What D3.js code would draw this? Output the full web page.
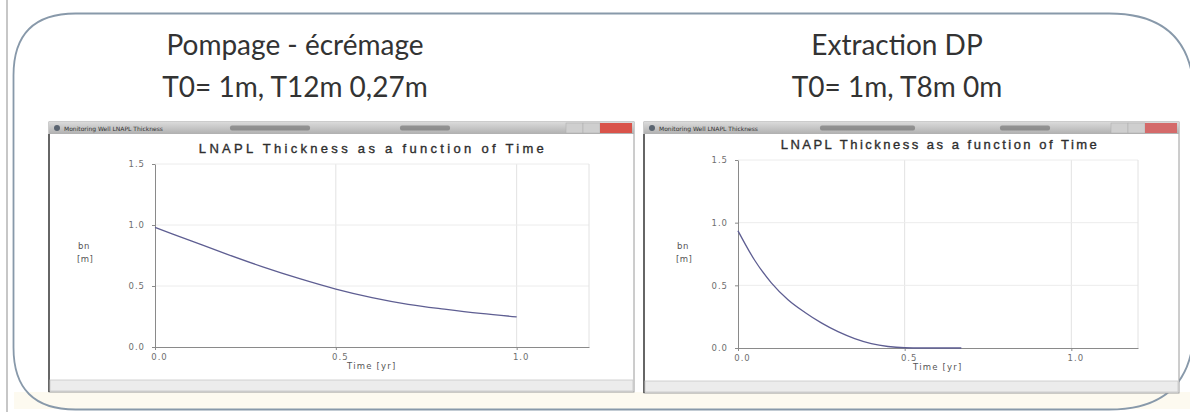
<!DOCTYPE html>
<html>
<head>
<meta charset="utf-8">
<script src="https://cdn.jsdelivr.net/npm/d3@7"></script>
<style>
  body { margin: 0; background: #fff; }
  svg { display: block; }
  .tick text { font-family: "DejaVu Sans", sans-serif; }
</style>
</head>
<body>
<svg id="chart" width="1190" height="412"></svg>
<script>
// headings above each screenshot
const headings = [
  ["Pompage - écrémage", "T0= 1m, T12m 0,27m"],
  ["Extraction DP", "T0= 1m, T8m 0m"]
]

// shared axis ticks
const xTicks = [0, 0.5, 1.0]
const yTicks = [0, 0.5, 1.0, 1.5]

// pompage - ecremage (left)
const leftTime      = [0, 0.1, 0.2, 0.3, 0.4, 0.5, 0.6, 0.7, 0.8, 0.9, 1.0]
const leftThickness = [0.98, 0.87, 0.76, 0.655, 0.56, 0.475, 0.405, 0.35, 0.31, 0.275, 0.247]

// extraction DP (right)
const rightTime      = [0, 0.05, 0.1, 0.15, 0.2, 0.25, 0.3, 0.35, 0.4, 0.45, 0.5, 0.55, 0.6, 0.67]
const rightThickness = [0.935, 0.70, 0.52, 0.385, 0.285, 0.2, 0.13, 0.075, 0.035, 0.012, 0.002, 0.0, 0.0, 0.0]

const svg = d3.select('#chart')

// gradient for window title bars
let defs = svg.append('defs')
let grad = defs.append('linearGradient').attr('id', 'titlebar').attr('x1', 0).attr('y1', 0).attr('x2', 0).attr('y2', 1)
grad.append('stop').attr('offset', '0%').attr('stop-color', '#dadada')
grad.append('stop').attr('offset', '100%').attr('stop-color', '#b0b0b0')

// faint page edge on the left
svg.append('line').attr('x1', 7).attr('x2', 7).attr('y1', 0).attr('y2', 412)
  .attr('stroke', '#b4b4b4').attr('stroke-width', 1.5)

// cream strip at the bottom
svg.append('rect').attr('x', 14).attr('y', 392).attr('width', 1176).attr('height', 17).attr('fill', '#fdfaf0')

// rounded outer frame (left corners tighter than right ones)
function framePath (x0, y0, x1, y1, rl, rr) {
  return `M${x0 + rl},${y0} L${x1 - rr},${y0} Q${x1},${y0} ${x1},${y0 + rr}` +
    ` L${x1},${y1 - rr} Q${x1},${y1} ${x1 - rr},${y1}` +
    ` L${x0 + rl},${y1} Q${x0},${y1} ${x0},${y1 - rl}` +
    ` L${x0},${y0 + rl} Q${x0},${y0} ${x0 + rl},${y0} Z`
}
svg.append('path').attr('d', framePath(13.5, 13.5, 1194, 409.5, 62, 85))
  .attr('fill', 'none').attr('stroke', '#8899aa').attr('stroke-width', 1.8)

// headings
headings.forEach((h, i) => {
  let cx = i === 0 ? 295 : 897
  svg.append('text').attr('x', cx).attr('y', 55).attr('text-anchor', 'middle')
    .attr('font-family', 'Lato, sans-serif').attr('font-size', 28).attr('fill', '#333').text(h[0])
  svg.append('text').attr('x', cx).attr('y', 97).attr('text-anchor', 'middle')
    .attr('font-family', 'Lato, sans-serif').attr('font-size', 28).attr('fill', '#333').text(h[1])
})

function drawWindow (opt) {
  let g = svg.append('g')
  let w = opt.x1 - opt.x0

  // body
  g.append('rect').attr('x', opt.x0).attr('y', opt.y0).attr('width', w).attr('height', opt.y1 - opt.y0)
    .attr('fill', '#fff').attr('stroke', '#9a9a9a').attr('stroke-width', 1)
  // title bar
  g.append('rect').attr('x', opt.x0).attr('y', opt.y0).attr('width', w).attr('height', 12)
    .attr('fill', 'url(#titlebar)')
  // blurred title bar text blobs
  opt.blobs.forEach((b) => {
    g.append('rect').attr('x', b[0]).attr('y', opt.y0 + 3.5).attr('width', b[1]).attr('height', 5)
      .attr('fill', '#6a6a6a').attr('opacity', 0.6).attr('rx', 2)
  })
  g.append('circle').attr('cx', opt.x0 + 8).attr('cy', opt.y0 + 6).attr('r', 3).attr('fill', '#5a6470')
  g.append('text').attr('x', opt.x0 + 15).attr('y', opt.y0 + 8.5)
    .attr('font-family', 'DejaVu Sans, sans-serif').attr('font-size', 6).attr('fill', '#333')
    .text('Monitoring Well LNAPL Thickness')
  // window buttons
  g.append('rect').attr('x', opt.x1 - 68).attr('y', opt.y0 + 1).attr('width', 17).attr('height', 10).attr('fill', '#cfcfcf').attr('stroke', '#aaa').attr('stroke-width', 0.5)
  g.append('rect').attr('x', opt.x1 - 51).attr('y', opt.y0 + 1).attr('width', 17).attr('height', 10).attr('fill', '#cfcfcf').attr('stroke', '#aaa').attr('stroke-width', 0.5)
  g.append('rect').attr('x', opt.x1 - 34).attr('y', opt.y0 + 1).attr('width', 32).attr('height', 10).attr('fill', opt.closeColor)
  // left border darker
  g.append('line').attr('x1', opt.x0).attr('x2', opt.x0).attr('y1', opt.y0 + 12).attr('y2', opt.y1)
    .attr('stroke', '#666').attr('stroke-width', 2)
  // status bar
  g.append('rect').attr('x', opt.x0 + 1).attr('y', opt.y1 - 12).attr('width', w - 2).attr('height', 11)
    .attr('fill', '#ececec').attr('stroke', '#c8c8c8').attr('stroke-width', 0.8)

  // plot
  let x = d3.scaleLinear().domain([0, 1.2]).range([opt.px0, opt.px1])
  let y = d3.scaleLinear().domain([0, 1.5]).range([opt.py1, opt.py0])

  // grid
  g.append('g').selectAll('line.gx').data(xTicks.slice(1)).join('line')
    .attr('x1', (d) => x(d)).attr('x2', (d) => x(d)).attr('y1', opt.py0).attr('y2', opt.py1)
    .attr('stroke', '#e2e2e2')
  g.append('g').selectAll('line.gy').data(yTicks.slice(1)).join('line')
    .attr('x1', opt.px0).attr('x2', opt.px1).attr('y1', (d) => y(d)).attr('y2', (d) => y(d))
    .attr('stroke', '#ececec')
  g.append('line').attr('x1', opt.px1).attr('x2', opt.px1).attr('y1', opt.py0).attr('y2', opt.py1).attr('stroke', '#e2e2e2')

  // axes
  let yAxis = g.append('g').attr('transform', `translate(${opt.px0},0)`)
    .call(d3.axisLeft(y).tickValues(yTicks).tickFormat(d3.format('.1f')).tickSize(3).tickSizeOuter(0).tickPadding(7))
  let xAxis = g.append('g').attr('transform', `translate(0,${opt.py1})`)
    .call(d3.axisBottom(x).tickValues(xTicks).tickFormat(d3.format('.1f')).tickSize(3).tickSizeOuter(0).tickPadding(4))
  ;[xAxis, yAxis].forEach((a) => {
    a.select('.domain').attr('stroke', '#8a8a8a')
    a.selectAll('.tick line').attr('stroke', '#8a8a8a')
    a.selectAll('.tick text').attr('fill', '#6e6e6e').attr('font-size', 8.5).attr('letter-spacing', 1)
  })
  xAxis.selectAll('.tick text').attr('dx', 4)

  // titles
  g.append('text').attr('x', opt.titleX).attr('y', opt.py0 - 11).attr('text-anchor', 'middle')
    .attr('font-family', 'Liberation Sans, sans-serif').attr('font-size', 13)
    .attr('stroke', '#2e2e2e').attr('stroke-width', 0.35)
    .attr('letter-spacing', opt.titleSpacing).attr('fill', '#2e2e2e').text('LNAPL Thickness as a function of Time')
  g.append('text').attr('x', opt.timeX).attr('y', opt.py1 + 22)
    .attr('font-family', 'DejaVu Sans, sans-serif').attr('font-size', 8.5).attr('letter-spacing', 1.2)
    .attr('fill', '#555').text('Time [yr]')
  g.append('text').attr('x', opt.bnX).attr('y', 249)
    .attr('font-family', 'DejaVu Sans, sans-serif').attr('font-size', 8.5).attr('letter-spacing', 0.5)
    .attr('fill', '#555').text('bn')
  g.append('text').attr('x', opt.bnX - 1).attr('y', 262)
    .attr('font-family', 'DejaVu Sans, sans-serif').attr('font-size', 8.5).attr('letter-spacing', 0.5)
    .attr('fill', '#555').text('[m]')

  // curve
  let line = d3.line().x((d) => x(d[0])).y((d) => y(d[1])).curve(d3.curveMonotoneX)
  g.append('path').datum(d3.zip(opt.time, opt.value))
    .attr('d', line).attr('fill', 'none').attr('stroke', '#5e5e92').attr('stroke-width', 1.3)
}

drawWindow({
  x0: 49, x1: 634, y0: 122, y1: 392,
  px0: 155, px1: 589, py0: 164, py1: 347,
  titleX: 373, titleSpacing: 3.3, timeX: 347, bnX: 78,
  blobs: [[230, 80], [400, 50]], closeColor: '#d9534a',
  time: leftTime, value: leftThickness
})
drawWindow({
  x0: 644, x1: 1179, y0: 122, y1: 393,
  px0: 738, px1: 1138, py0: 160, py1: 348,
  titleX: 940, titleSpacing: 2.5, timeX: 913, bnX: 677,
  blobs: [[820, 95], [1000, 50]], closeColor: '#d46a6a',
  time: rightTime, value: rightThickness
})
</script>
</body>
</html>
